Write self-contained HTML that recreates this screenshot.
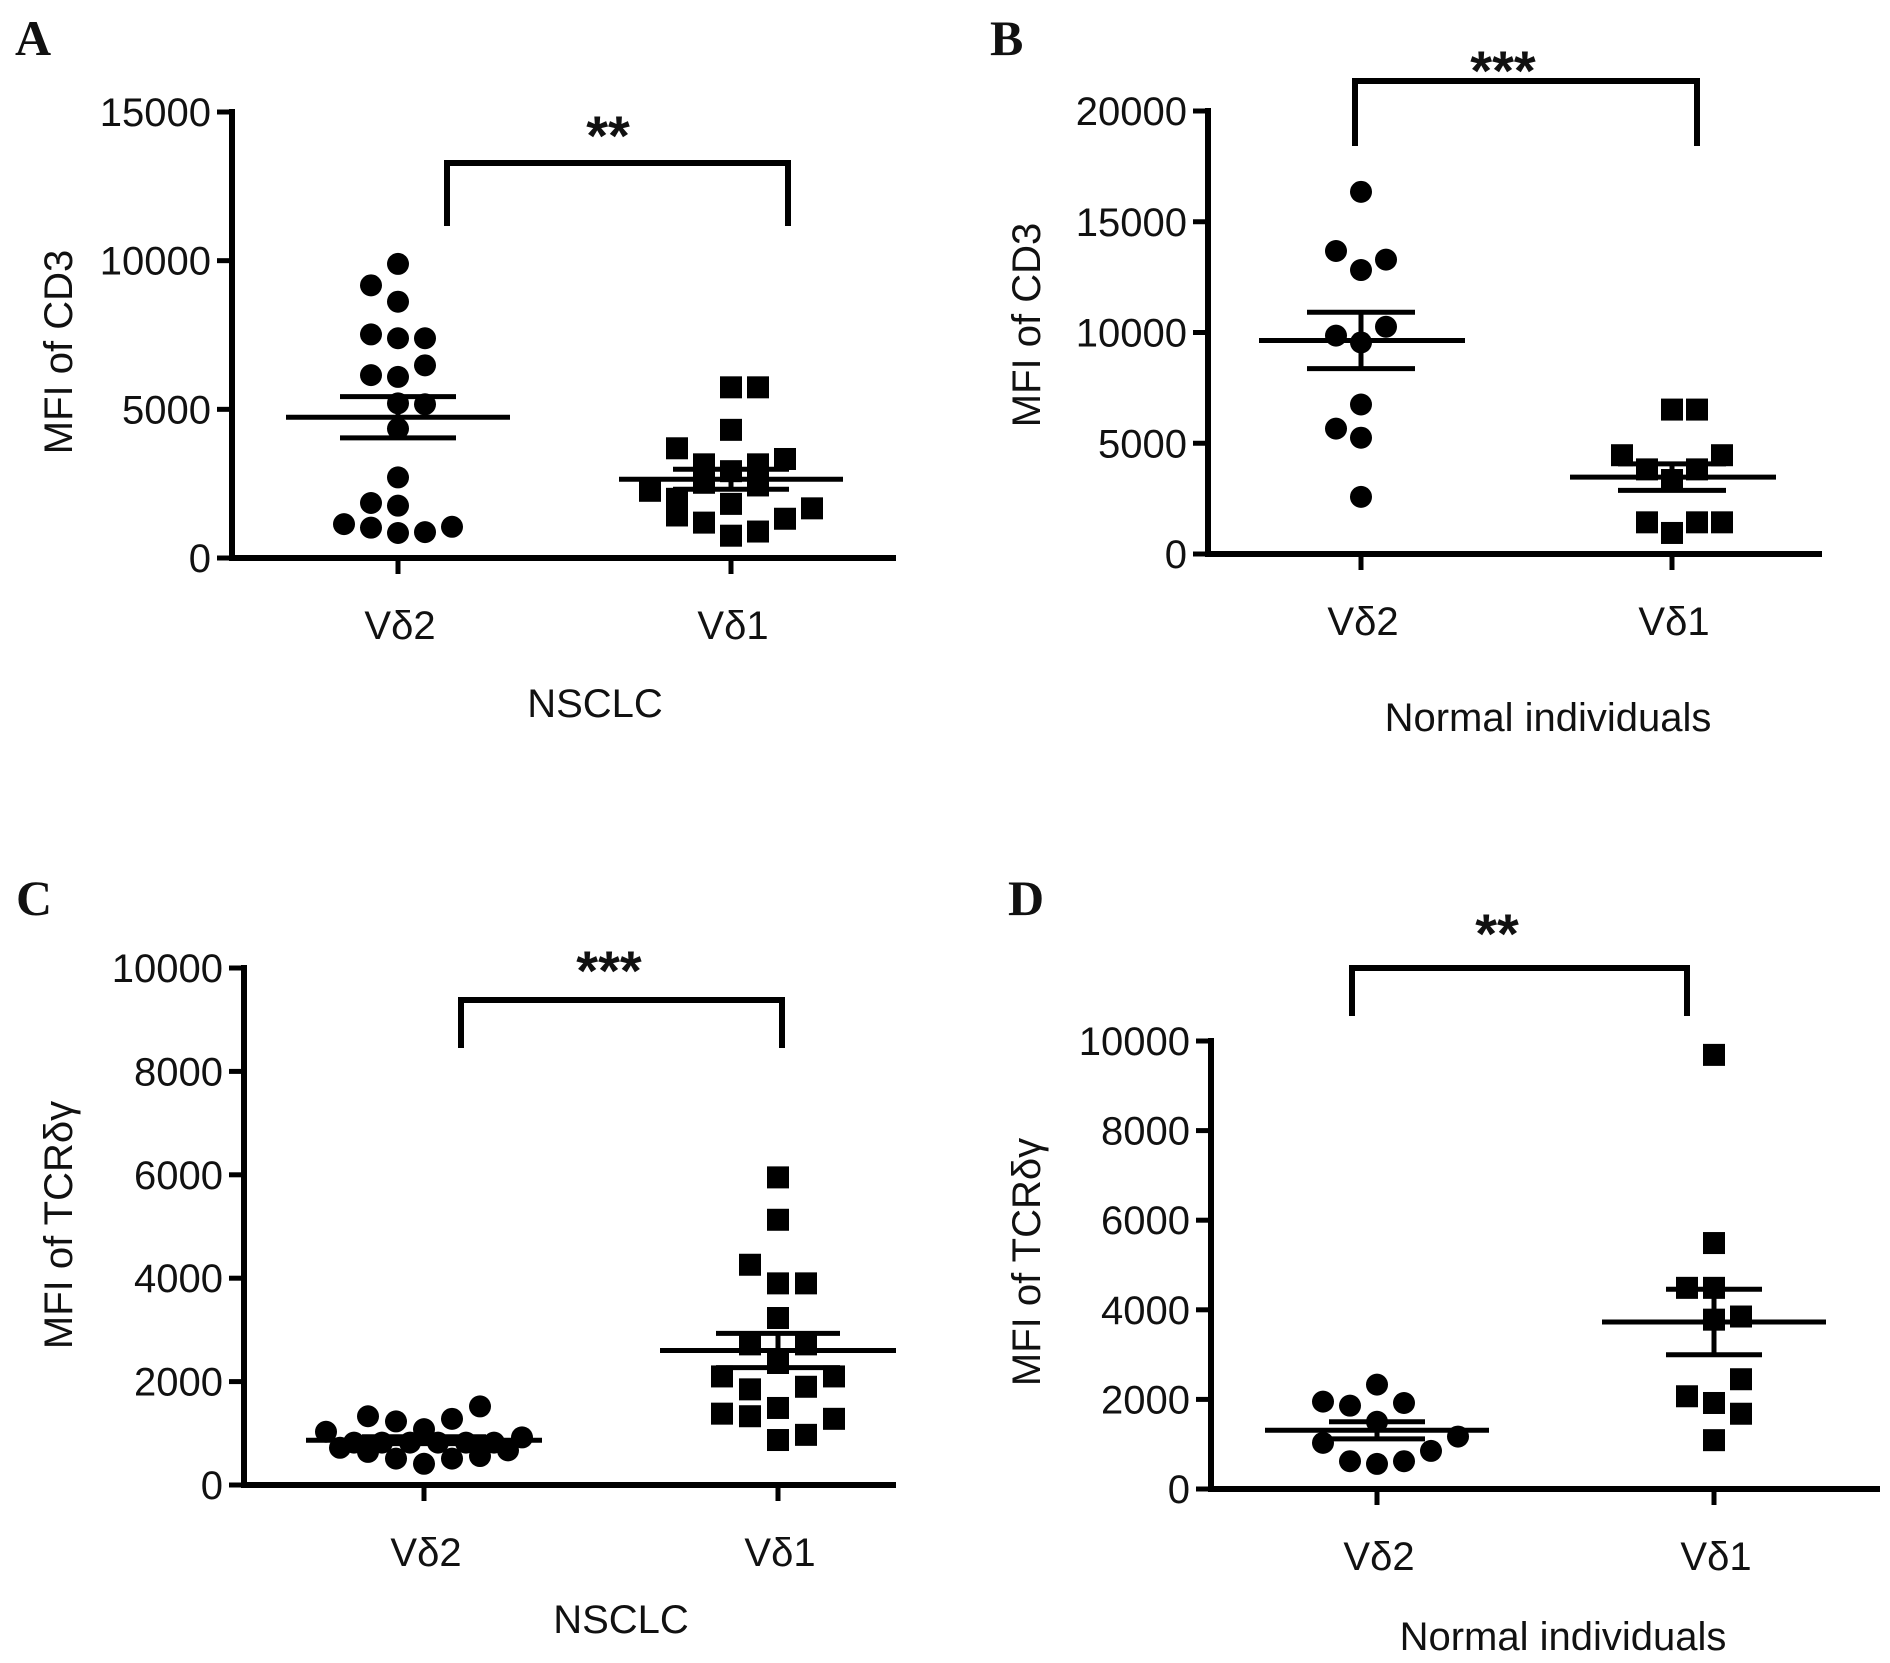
<!DOCTYPE html>
<html><head><meta charset="utf-8">
<style>
html,body{margin:0;padding:0;background:#fff;}
svg{display:block;}
text{font-family:"Liberation Sans",Arial,sans-serif;fill:#111;}
.lbl{font-family:"Liberation Serif","Times New Roman",serif;font-weight:bold;}
</style></head>
<body>
<svg id="fig" width="1890" height="1663" viewBox="0 0 1890 1663" xmlns="http://www.w3.org/2000/svg"></svg>
<script>
// ---- Data ----
const categories = ["Vδ2", "Vδ1"];
// Panel A: MFI of CD3, NSCLC
const aV2 = [9890,9170,8620,7520,7390,7390,6480,6150,6090,5200,5170,4350,2710,1850,1760,1140,1020,840,870,1050];
const aV2j = [0,-1,0,-1,0,1,1,-1,0,0,1,0,0,-1,0,-2,-1,0,1,2];
const aV1 = [5740,5740,4310,3690,3330,3150,3150,2920,2260,2530,2440,1990,1820,1670,1430,1190,1320,750,890];
const aV1j = [0,1,0,-2,2,-1,1,0,-3,-1,1,-2,0,3,-2,-1,2,0,1];
const aTicks = [0,5000,10000,15000];
// Panel B: MFI of CD3, Normal
const bV2 = [16350,13680,13290,12820,10260,9860,9550,6750,5660,5250,2580];
const bV2j = [0,-1,1,0,1,-1,0,0,-1,0,0];
const bV1 = [6520,6520,4460,4460,3820,3820,3340,1430,1430,1430,950];
const bV1j = [0,1,-2,2,-1,1,0,-1,1,2,0];
const bTicks = [0,5000,10000,15000,20000];
// Panel C: MFI of TCRδγ, NSCLC
const cV2 = [1030,1330,1230,1080,1280,1520,920,720,640,510,410,510,560,670,820,820,820,820,820,820];
const cV2j = [-3.5,-2,-1,0,1,2,3.5,-3,-2,-1,0,1,2,3,-2.5,-1.5,-0.5,0.5,1.5,2.5];
const cV1 = [5950,5130,4260,3900,3900,3230,2720,2720,2360,2100,2100,1850,1900,1380,1490,1280,1330,870,970];
const cV1j = [0,0,-1,0,1,0,-1,1,0,-2,2,-1,1,-2,0,2,-1,0,1];
const cTicks = [0,2000,4000,6000,8000,10000];
// Panel D: MFI of TCRδγ, Normal
const dV2 = [2330,1950,1860,1920,1500,1170,1030,850,620,560,620];
const dV2j = [0,-2,-1,1,0,3,-2,2,-1,0,1];
const dV1 = [9690,5490,4490,4490,3780,3850,2450,2070,1920,1680,1090];
const dV1j = [0,0,-1,0,0,1,1,-1,0,1,0];
const dTicks = [0,2000,4000,6000,8000,10000];

const NS = "http://www.w3.org/2000/svg";
const svg = document.getElementById("fig");
function mk(tag, attrs, parent){
  const e = document.createElementNS(NS, tag);
  for (const k in attrs) e.setAttribute(k, attrs[k]);
  (parent||svg).appendChild(e);
  return e;
}
function mean(a){return a.reduce((s,v)=>s+v,0)/a.length;}
function sem(a){const m=mean(a);const sd=Math.sqrt(a.reduce((s,v)=>s+(v-m)*(v-m),0)/(a.length-1));return sd/Math.sqrt(a.length);}

function panel(cfg){
  const g = mk("g",{});
  
  
  const yMax = cfg.ticks[cfg.ticks.length-1];
  const ys = v => cfg.y0 - (v / yMax) * (cfg.y0 - cfg.yTop);
  const catX = cfg.catX;

  const letter = mk("text",{x:cfg.letterX,y:cfg.letterY,class:"lbl","font-size":50},g);
  letter.textContent = cfg.id;
  
  

  // axes
  const yax = mk("line",{x1:cfg.axX,y1:cfg.yTop-3,x2:cfg.axX,y2:cfg.y0+3,stroke:"#000","stroke-width":6},g);
  
  
  const xax = mk("line",{x1:cfg.axX-3,y1:cfg.y0,x2:cfg.xEnd,y2:cfg.y0,stroke:"#000","stroke-width":6},g);
  
  
  cfg.ticks.forEach(t=>{
    const y = ys(t);
    const tk = mk("line",{x1:cfg.axX-15,y1:y,x2:cfg.axX,y2:y,stroke:"#000","stroke-width":5},g);
    
    
    const tl = mk("text",{x:cfg.axX-21,y:y+14,"text-anchor":"end","font-size":40},g);
    tl.textContent = t;
    
    
  });
  categories.forEach((c,i)=>{
    const tk = mk("line",{x1:catX[i],y1:cfg.y0,x2:catX[i],y2:cfg.y0+16,stroke:"#000","stroke-width":5},g);
    
    
    const tl = mk("text",{x:catX[i]+2,y:cfg.y0+81,"text-anchor":"middle","font-size":40},g);
    tl.textContent = c;
    
    
  });
  const yt = mk("text",{x:0,y:0,"text-anchor":"middle","font-size":40,transform:`translate(${cfg.ytX},${cfg.ytY}) rotate(-90)`},g);
  yt.textContent = cfg.yTitle;
  
  
  const xt = mk("text",{x:cfg.xtX,y:cfg.xtY,"text-anchor":"middle","font-size":40},g);
  xt.textContent = cfg.xTitle;
  
  

  // points
  [cfg.s2, cfg.s1].forEach((vals,i)=>{
    const jit = i===0 ? cfg.j2 : cfg.j1;
    vals.forEach((v,k)=>{
      const cx = catX[i] + jit[k]*cfg.ju, cy = ys(v);
      let m;
      if (i===0){
        m = mk("circle",{cx:cx,cy:cy,r:11,fill:"#000"},g);
        
      } else {
        m = mk("rect",{x:cx-11,y:cy-11,width:22,height:22,fill:"#000"},g);
        
      }
      
    });
    // mean & SEM
    const mu = mean(vals), se = sem(vals);
    const ml = mk("line",{x1:catX[i]-cfg.mw[0],y1:ys(mu),x2:catX[i]+cfg.mw[1],y2:ys(mu),stroke:"#000","stroke-width":5},g);
    
    
    [mu+se, mu-se].forEach(v=>{
      const sl = mk("line",{x1:catX[i]-cfg.sw,y1:ys(v),x2:catX[i]+cfg.sw,y2:ys(v),stroke:"#000","stroke-width":5},g);
      
      
    });
    const vl = mk("line",{x1:catX[i],y1:ys(mu+se),x2:catX[i],y2:ys(mu-se),stroke:"#000","stroke-width":5},g);
    
    
  });

  // significance bracket
  const b = cfg.br;
  const br = mk("polyline",{points:`${b[0]},${b[3]} ${b[0]},${b[2]} ${b[1]},${b[2]} ${b[1]},${b[3]}`,fill:"none",stroke:"#000","stroke-width":6},g);
  
  
  const st = mk("text",{x:cfg.starX,y:cfg.starY,"text-anchor":"middle","font-size":56,"font-weight":"bold"},g);
  st.textContent = cfg.stars;
  
  
}

panel({id:"A",letterX:15,letterY:55,axX:232,yTop:112,y0:558,xEnd:896,ticks:aTicks,catX:[398,731],
  ju:27,mw:[112,112],sw:58,s2:aV2,j2:aV2j,s1:aV1,j1:aV1j,
  yTitle:"MFI of CD3",ytX:72,ytY:352,xTitle:"NSCLC",xtX:595,xtY:717,
  br:[447,788,163,226],stars:"**",starX:608,starY:155});
panel({id:"B",letterX:990,letterY:55,axX:1208,yTop:111,y0:554,xEnd:1822,ticks:bTicks,catX:[1361,1672],
  ju:25,mw:[102,104],sw:54,s2:bV2,j2:bV2j,s1:bV1,j1:bV1j,
  yTitle:"MFI of CD3",ytX:1040,ytY:325,xTitle:"Normal individuals",xtX:1548,xtY:731,
  br:[1355,1697,81,146],stars:"***",starX:1503,starY:90});
panel({id:"C",letterX:16,letterY:915,axX:244,yTop:968,y0:1485,xEnd:896,ticks:cTicks,catX:[424,778],
  ju:28,mw:[118,118],sw:62,s2:cV2,j2:cV2j,s1:cV1,j1:cV1j,
  yTitle:"MFI of TCRδγ",ytX:72,ytY:1225,xTitle:"NSCLC",xtX:621,xtY:1633,
  br:[461,782,1000,1048],stars:"***",starX:609,starY:990});
panel({id:"D",letterX:1008,letterY:915,axX:1211,yTop:1041,y0:1489,xEnd:1880,ticks:dTicks,catX:[1377,1714],
  ju:27,mw:[112,112],sw:48,s2:dV2,j2:dV2j,s1:dV1,j1:dV1j,
  yTitle:"MFI of TCRδγ",ytX:1040,ytY:1262,xTitle:"Normal individuals",xtX:1563,xtY:1650,
  br:[1352,1687,968,1016],stars:"**",starX:1497,starY:953});
</script>
</body></html>
